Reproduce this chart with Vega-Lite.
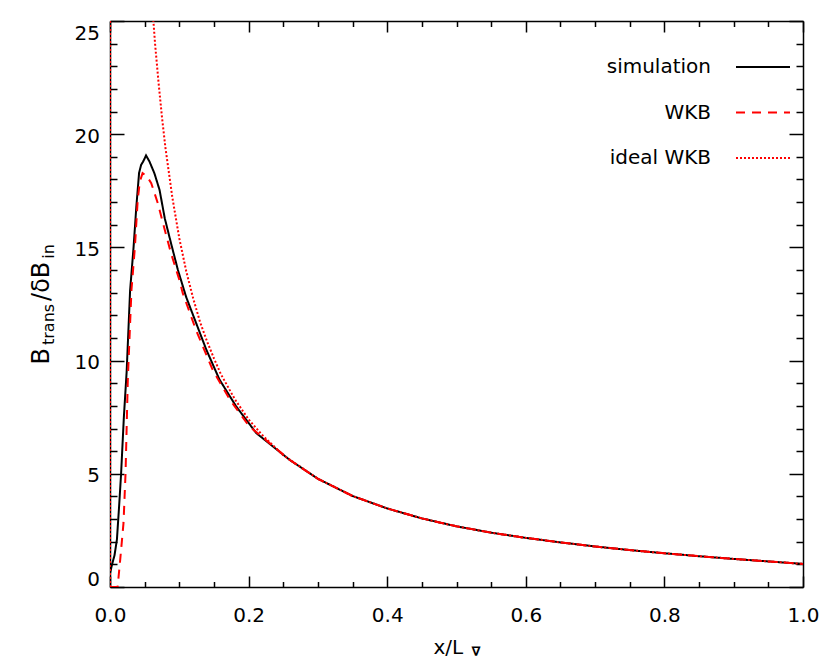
{
  "$schema": "https://vega.github.io/schema/vega-lite/v6.json",
  "width": 693,
  "height": 566,
  "autosize": {"type": "none"},
  "padding": {"left": 110, "top": 21, "right": 27, "bottom": 78},
  "background": "white",
  "config": {
    "view": {"stroke": null},
    "font": "DejaVu Sans",
    "axis": {"grid": false, "domainColor": "black", "tickColor": "black", "domainWidth": 1.5, "tickWidth": 1.5, "labelColor": "black", "titleColor": "black", "labelFont": "DejaVu Sans", "titleFont": "DejaVu Sans", "titleFontWeight": "normal"}
  },
  "datasets": {
    "curves": [
      {"x": 0.0, "y": 0.6, "series": "simulation"},
      {"x": 0.003, "y": 1.0, "series": "simulation"},
      {"x": 0.0065, "y": 1.4, "series": "simulation"},
      {"x": 0.010, "y": 2.1, "series": "simulation"},
      {"x": 0.013, "y": 3.5, "series": "simulation"},
      {"x": 0.016, "y": 5.0, "series": "simulation"},
      {"x": 0.020, "y": 7.5, "series": "simulation"},
      {"x": 0.024, "y": 9.5, "series": "simulation"},
      {"x": 0.029, "y": 13.1, "series": "simulation"},
      {"x": 0.034, "y": 15.0, "series": "simulation"},
      {"x": 0.038, "y": 16.8, "series": "simulation"},
      {"x": 0.042, "y": 18.3, "series": "simulation"},
      {"x": 0.045, "y": 18.65, "series": "simulation"},
      {"x": 0.048, "y": 18.8, "series": "simulation"},
      {"x": 0.052, "y": 19.06, "series": "simulation"},
      {"x": 0.057, "y": 18.79, "series": "simulation"},
      {"x": 0.064, "y": 18.28, "series": "simulation"},
      {"x": 0.0715, "y": 17.54, "series": "simulation"},
      {"x": 0.079, "y": 16.29, "series": "simulation"},
      {"x": 0.088, "y": 15.19, "series": "simulation"},
      {"x": 0.098, "y": 14.0, "series": "simulation"},
      {"x": 0.110, "y": 12.8, "series": "simulation"},
      {"x": 0.120, "y": 12.0, "series": "simulation"},
      {"x": 0.139, "y": 10.48, "series": "simulation"},
      {"x": 0.158, "y": 9.16, "series": "simulation"},
      {"x": 0.182, "y": 7.98, "series": "simulation"},
      {"x": 0.211, "y": 6.80, "series": "simulation"},
      {"x": 0.259, "y": 5.62, "series": "simulation"},
      {"x": 0.3, "y": 4.78, "series": "simulation"},
      {"x": 0.35, "y": 4.02, "series": "simulation"},
      {"x": 0.4, "y": 3.47, "series": "simulation"},
      {"x": 0.45, "y": 3.03, "series": "simulation"},
      {"x": 0.5, "y": 2.68, "series": "simulation"},
      {"x": 0.55, "y": 2.40, "series": "simulation"},
      {"x": 0.6, "y": 2.17, "series": "simulation"},
      {"x": 0.65, "y": 1.97, "series": "simulation"},
      {"x": 0.7, "y": 1.79, "series": "simulation"},
      {"x": 0.75, "y": 1.63, "series": "simulation"},
      {"x": 0.8, "y": 1.49, "series": "simulation"},
      {"x": 0.85, "y": 1.36, "series": "simulation"},
      {"x": 0.9, "y": 1.24, "series": "simulation"},
      {"x": 0.95, "y": 1.13, "series": "simulation"},
      {"x": 1.0, "y": 1.02, "series": "simulation"},

      {"x": 0.0, "y": 0.0, "series": "WKB"},
      {"x": 0.011, "y": 0.0, "series": "WKB"},
      {"x": 0.0147, "y": 1.2, "series": "WKB"},
      {"x": 0.0195, "y": 2.83, "series": "WKB"},
      {"x": 0.0224, "y": 5.0, "series": "WKB"},
      {"x": 0.0257, "y": 9.16, "series": "WKB"},
      {"x": 0.031, "y": 13.13, "series": "WKB"},
      {"x": 0.036, "y": 15.04, "series": "WKB"},
      {"x": 0.040, "y": 17.1, "series": "WKB"},
      {"x": 0.043, "y": 17.9, "series": "WKB"},
      {"x": 0.047, "y": 18.28, "series": "WKB"},
      {"x": 0.053, "y": 18.15, "series": "WKB"},
      {"x": 0.0595, "y": 17.84, "series": "WKB"},
      {"x": 0.069, "y": 16.95, "series": "WKB"},
      {"x": 0.079, "y": 15.78, "series": "WKB"},
      {"x": 0.088, "y": 14.75, "series": "WKB"},
      {"x": 0.100, "y": 13.57, "series": "WKB"},
      {"x": 0.105, "y": 12.98, "series": "WKB"},
      {"x": 0.124, "y": 11.36, "series": "WKB"},
      {"x": 0.148, "y": 9.60, "series": "WKB"},
      {"x": 0.173, "y": 8.27, "series": "WKB"},
      {"x": 0.201, "y": 7.10, "series": "WKB"},
      {"x": 0.259, "y": 5.62, "series": "WKB"},
      {"x": 0.3, "y": 4.78, "series": "WKB"},
      {"x": 0.35, "y": 4.02, "series": "WKB"},
      {"x": 0.4, "y": 3.47, "series": "WKB"},
      {"x": 0.45, "y": 3.03, "series": "WKB"},
      {"x": 0.5, "y": 2.68, "series": "WKB"},
      {"x": 0.55, "y": 2.40, "series": "WKB"},
      {"x": 0.6, "y": 2.17, "series": "WKB"},
      {"x": 0.65, "y": 1.97, "series": "WKB"},
      {"x": 0.7, "y": 1.79, "series": "WKB"},
      {"x": 0.75, "y": 1.63, "series": "WKB"},
      {"x": 0.8, "y": 1.49, "series": "WKB"},
      {"x": 0.85, "y": 1.36, "series": "WKB"},
      {"x": 0.9, "y": 1.24, "series": "WKB"},
      {"x": 0.95, "y": 1.13, "series": "WKB"},
      {"x": 1.0, "y": 1.02, "series": "WKB"},

      {"x": 0.0, "y": 0.0, "series": "ideal WKB"},
      {"x": 0.0005, "y": 80, "series": "ideal WKB"},
      {"x": 0.055, "y": 28.5, "series": "ideal WKB"},
      {"x": 0.06, "y": 26.1, "series": "ideal WKB"},
      {"x": 0.065, "y": 24.0, "series": "ideal WKB"},
      {"x": 0.07, "y": 22.3, "series": "ideal WKB"},
      {"x": 0.075, "y": 20.75, "series": "ideal WKB"},
      {"x": 0.08, "y": 19.4, "series": "ideal WKB"},
      {"x": 0.09, "y": 17.2, "series": "ideal WKB"},
      {"x": 0.1, "y": 15.4, "series": "ideal WKB"},
      {"x": 0.11, "y": 13.95, "series": "ideal WKB"},
      {"x": 0.12, "y": 12.75, "series": "ideal WKB"},
      {"x": 0.13, "y": 11.7, "series": "ideal WKB"},
      {"x": 0.14, "y": 10.85, "series": "ideal WKB"},
      {"x": 0.15, "y": 10.1, "series": "ideal WKB"},
      {"x": 0.16, "y": 9.4, "series": "ideal WKB"},
      {"x": 0.18, "y": 8.3, "series": "ideal WKB"},
      {"x": 0.2, "y": 7.4, "series": "ideal WKB"},
      {"x": 0.22, "y": 6.7, "series": "ideal WKB"},
      {"x": 0.25, "y": 5.82, "series": "ideal WKB"},
      {"x": 0.3, "y": 4.78, "series": "ideal WKB"},
      {"x": 0.35, "y": 4.02, "series": "ideal WKB"},
      {"x": 0.4, "y": 3.47, "series": "ideal WKB"},
      {"x": 0.45, "y": 3.03, "series": "ideal WKB"},
      {"x": 0.5, "y": 2.68, "series": "ideal WKB"},
      {"x": 0.55, "y": 2.40, "series": "ideal WKB"},
      {"x": 0.6, "y": 2.17, "series": "ideal WKB"},
      {"x": 0.65, "y": 1.97, "series": "ideal WKB"},
      {"x": 0.7, "y": 1.79, "series": "ideal WKB"},
      {"x": 0.75, "y": 1.63, "series": "ideal WKB"},
      {"x": 0.8, "y": 1.49, "series": "ideal WKB"},
      {"x": 0.85, "y": 1.36, "series": "ideal WKB"},
      {"x": 0.9, "y": 1.24, "series": "ideal WKB"},
      {"x": 0.95, "y": 1.13, "series": "ideal WKB"},
      {"x": 1.0, "y": 1.02, "series": "ideal WKB"}
    ]
  },
  "data": {"name": "curves"},
  "resolve": {"scale": {"x": "shared", "y": "shared"}, "axis": {"x": "independent", "y": "independent"}},
  "layer": [
    {
      "transform": [{"filter": "datum.series === 'simulation'"}],
      "mark": {"type": "line", "clip": true, "strokeWidth": 2},
      "encoding": {
        "x": {"field": "x", "type": "quantitative", "scale": {"domain": [0, 1], "nice": false, "zero": false},
          "axis": {"orient": "bottom", "values": [0, 0.2, 0.4, 0.6, 0.8, 1.0], "format": ".1f", "tickSize": -11, "labelPadding": 29, "labelFontSize": 20, "labelFlush": false, "title": "x/L", "titleFontSize": 20, "titleAlign": "left", "titleBaseline": "alphabetic", "titleX": 323, "titleY": 66}},
        "y": {"field": "y", "type": "quantitative", "scale": {"domain": [0, 25], "nice": false, "zero": false},
          "axis": {"orient": "left", "values": [0, 5, 10, 15, 20, 25], "tickSize": -14, "labelPadding": 24.5, "labelFontSize": 20, "labelFlush": true, "labelOffset": 2, "title": "B", "titleFontSize": 24, "titleAngle": -90, "titleAlign": "left", "titleBaseline": "alphabetic", "titleX": -62, "titleY": 343}},
        "order": {"field": "x", "type": "quantitative"},
        "color": {"field": "series", "type": "nominal", "scale": {"domain": ["simulation", "WKB", "ideal WKB"], "range": ["#000000", "#ff0000", "#ff0000"]},
          "legend": {"orient": "none", "legendX": 625, "legendY": 18, "title": null, "symbolType": "stroke", "symbolSize": 2916, "symbolStrokeWidth": 2, "labelFontSize": 20, "labelFont": "DejaVu Sans", "labelColor": "black", "labelAlign": "right", "labelOffset": -80, "labelLimit": 400, "rowPadding": 7.5}},
        "strokeDash": {"field": "series", "type": "nominal", "scale": {"domain": ["simulation", "WKB", "ideal WKB"], "range": [[1, 0], [9, 7], [2, 2]]},
          "legend": {"orient": "none", "legendX": 625, "legendY": 18, "title": null, "symbolType": "stroke", "symbolSize": 2916, "symbolStrokeWidth": 2, "labelFontSize": 20, "labelFont": "DejaVu Sans", "labelColor": "black", "labelAlign": "right", "labelOffset": -80, "labelLimit": 400, "rowPadding": 7.5}}
      }
    },
    {
      "transform": [{"filter": "datum.series === 'WKB'"}],
      "mark": {"type": "line", "clip": true, "strokeWidth": 2},
      "encoding": {
        "x": {"field": "x", "type": "quantitative", "axis": null},
        "y": {"field": "y", "type": "quantitative", "axis": null},
        "order": {"field": "x", "type": "quantitative"},
        "color": {"field": "series", "type": "nominal"},
        "strokeDash": {"field": "series", "type": "nominal"}
      }
    },
    {
      "transform": [{"filter": "datum.series === 'ideal WKB'"}],
      "mark": {"type": "line", "clip": true, "strokeWidth": 2},
      "encoding": {
        "x": {"field": "x", "type": "quantitative", "axis": null},
        "y": {"field": "y", "type": "quantitative", "axis": null},
        "order": {"field": "x", "type": "quantitative"},
        "color": {"field": "series", "type": "nominal"},
        "strokeDash": {"field": "series", "type": "nominal"}
      }
    },
    {
      "mark": {"type": "point", "opacity": 0, "clip": true},
      "encoding": {
        "x": {"field": "x", "type": "quantitative",
          "axis": {"orient": "bottom", "values": [0.05, 0.1, 0.15, 0.25, 0.3, 0.35, 0.45, 0.5, 0.55, 0.65, 0.7, 0.75, 0.85, 0.9, 0.95], "tickSize": -5.5, "labels": false, "domain": false, "title": "∇", "titleFontSize": 13, "titleFontWeight": "bold", "titleAlign": "left", "titleBaseline": "alphabetic", "titleX": 361, "titleY": 68}},
        "y": {"field": "y", "type": "quantitative",
          "axis": {"orient": "left", "values": [1, 2, 3, 4, 6, 7, 8, 9, 11, 12, 13, 14, 16, 17, 18, 19, 21, 22, 23, 24], "tickSize": -7, "labels": false, "domain": false, "title": "trans", "titleFontSize": 16, "titleAngle": -90, "titleAlign": "left", "titleBaseline": "alphabetic", "titleX": -57, "titleY": 323.5}}
      }
    },
    {
      "mark": {"type": "point", "opacity": 0, "clip": true},
      "encoding": {
        "x": {"field": "x", "type": "quantitative",
          "axis": {"orient": "top", "values": [0, 0.2, 0.4, 0.6, 0.8, 1.0], "tickSize": -11, "labels": false, "domain": true, "title": null}},
        "y": {"field": "y", "type": "quantitative",
          "axis": {"orient": "right", "values": [0, 5, 10, 15, 20, 25], "tickSize": -14, "labels": false, "domain": true, "title": null}}
      }
    },
    {
      "mark": {"type": "point", "opacity": 0, "clip": true},
      "encoding": {
        "x": {"field": "x", "type": "quantitative",
          "axis": {"orient": "top", "values": [0.05, 0.1, 0.15, 0.25, 0.3, 0.35, 0.45, 0.5, 0.55, 0.65, 0.7, 0.75, 0.85, 0.9, 0.95], "tickSize": -5.5, "labels": false, "domain": false, "title": null}},
        "y": {"field": "y", "type": "quantitative",
          "axis": {"orient": "right", "values": [1, 2, 3, 4, 6, 7, 8, 9, 11, 12, 13, 14, 16, 17, 18, 19, 21, 22, 23, 24], "tickSize": -7, "labels": false, "domain": false, "title": null}}
      }
    },
    {
      "mark": {"type": "point", "opacity": 0, "clip": true},
      "encoding": {
        "x": {"field": "x", "type": "quantitative", "axis": null},
        "y": {"field": "y", "type": "quantitative",
          "axis": {"orient": "left", "ticks": false, "labels": false, "domain": false, "title": "/δB", "titleFontSize": 24, "titleAngle": -90, "titleAlign": "left", "titleBaseline": "alphabetic", "titleX": -62, "titleY": 279.4}}
      }
    },
    {
      "mark": {"type": "point", "opacity": 0, "clip": true},
      "encoding": {
        "x": {"field": "x", "type": "quantitative", "axis": null},
        "y": {"field": "y", "type": "quantitative",
          "axis": {"orient": "left", "ticks": false, "labels": false, "domain": false, "title": "in", "titleFontSize": 16, "titleAngle": -90, "titleAlign": "left", "titleBaseline": "alphabetic", "titleX": -57, "titleY": 237.2}}
      }
    }
  ]
}
